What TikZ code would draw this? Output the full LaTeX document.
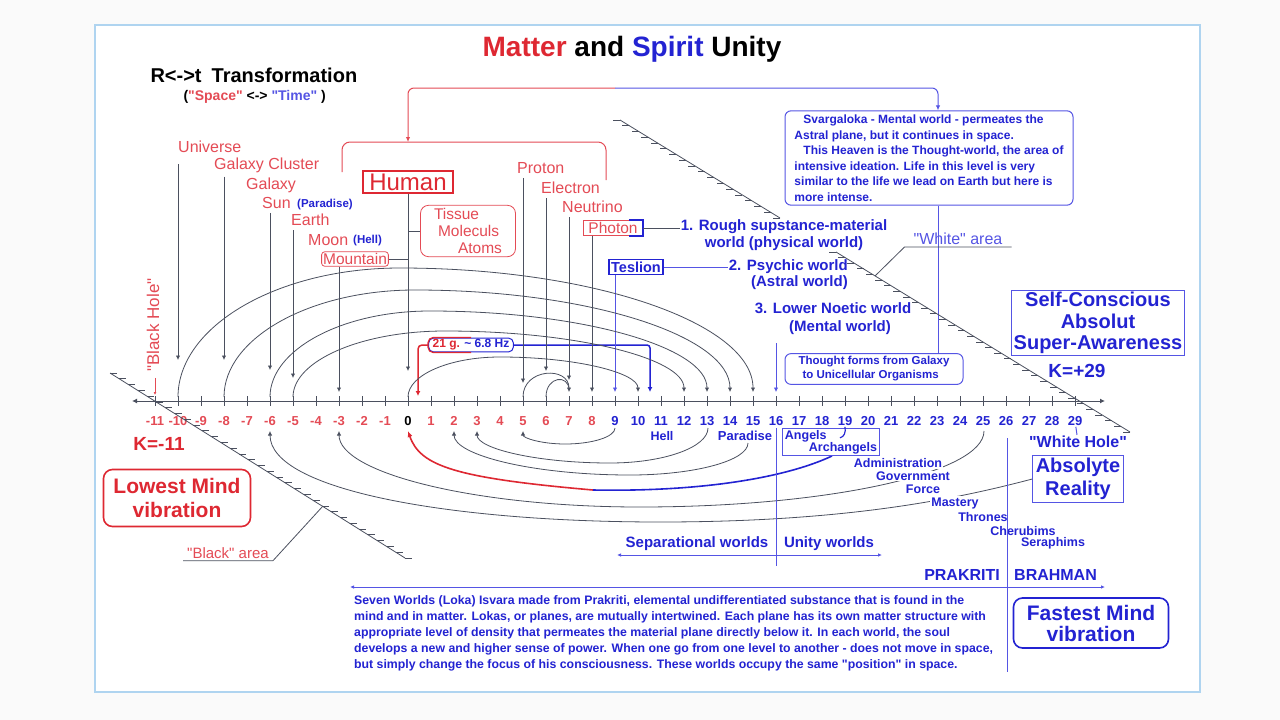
\documentclass[tikz,border=0pt]{standalone}
\usepackage{fontspec}
\setmainfont{Liberation Sans}[Ligatures=TeXOff]
\usetikzlibrary{arrows.meta,calc,positioning}
\definecolor{mred}{RGB}{222,40,50}
\definecolor{lred}{RGB}{228,75,85}
\definecolor{mblue}{RGB}{35,35,210}
\definecolor{lblue}{RGB}{85,85,228}
\definecolor{gline}{RGB}{75,80,95}
\definecolor{frame}{RGB}{175,212,240}
\begin{document}
\begin{tikzpicture}[x=1pt,y=-1pt,
  lbl/.style={font=\fontsize{16}{18}\selectfont, text=lred, inner sep=1pt},
  sblu/.style={font=\fontsize{12.5}{14}\selectfont\bfseries, text=mblue, inner sep=1pt},
  wblu/.style={font=\fontsize{15}{17}\selectfont\bfseries, text=mblue, inner sep=1pt},
  tk/.style={font=\fontsize{13}{14}\selectfont\bfseries, inner sep=1pt},
  rbox/.style={draw=lred, line width=0.8pt, rounded corners=3pt, font=\fontsize{15.5}{17}\selectfont, text=lred, inner sep=1.5pt},
  bbox/.style={draw=lblue, line width=1pt, text=mblue},
  dropl/.style={draw=gline, line width=0.8pt, -{Latex[length=4.5pt,width=4.5pt]}, shorten <=3pt},
  arcl/.style={draw=gline, line width=0.8pt},
  hatch/.style={draw=gline, line width=0.8pt}]
\useasboundingbox (0,0) rectangle (1280,720);
\fill[gray!4] (0,0) rectangle (1280,720);
\filldraw[fill=white, draw=frame, line width=1.5pt] (95,25) rectangle (1200,692);

\node[font=\fontsize{28}{30}\selectfont\bfseries] (title) at (632,49) {\textcolor{mred}{Matter} and \textcolor{mblue}{Spirit} Unity};
\node[anchor=west, font=\fontsize{20}{22}\selectfont\bfseries] (rt) at (147,75) {R<->t\enspace Transformation};
\node[anchor=west, font=\fontsize{14}{16}\selectfont\bfseries] (spt) at (180,97) {(\textcolor{lred}{"Space"} <-> \textcolor{lblue}{"Time"} )};

\coordinate (axL) at (132,401);
\coordinate (axR) at (1105,401);
\draw[gline, line width=1pt, {Latex[length=5pt,width=5pt]}-{Latex[length=5pt,width=5pt]}] (axL) -- (axR);
\foreach \k in {-11,...,29} {
  \coordinate (tick\k) at ({408+23*\k},401);
  \draw[gline, line width=0.8pt] (tick\k) ++(0,-5) -- ++(0,10);
}
\foreach \k in {-11,...,-1} \node[tk, text=lred] (lab\k) at ({408+23*\k},421) {\k};
\node[tk] (lab0) at (408,421) {0};
\foreach \k in {1,...,8} \node[tk, text=lred] (lab\k) at ({408+23*\k},421) {\k};
\foreach \k in {9,...,29} \node[tk, text=mblue] (lab\k) at ({408+23*\k},421) {\k};

\node[lbl, anchor=west] (universe) at (177,147) {Universe};
\node[lbl, anchor=west] (gcluster) at (213,165) {Galaxy Cluster};
\node[lbl, anchor=west] (galaxy) at (245,185) {Galaxy};
\node[lbl, anchor=west] (sun) at (261,203) {Sun};
\node[sblu, anchor=west, font=\fontsize{11.5}{13}\selectfont\bfseries] (paradise) at (296,205) {(Paradise)};
\node[lbl, anchor=west] (earth) at (290,220) {Earth};
\node[lbl, anchor=west] (moon) at (307,240) {Moon};
\node[sblu, anchor=west, font=\fontsize{11.5}{13}\selectfont\bfseries] (hell) at (352,241) {(Hell)};
\node[rbox] (mountain) at (355,259) {Mountain};
\node[draw=mred, line width=2pt, font=\fontsize{24}{26}\selectfont, text=mred, inner xsep=6pt, inner ysep=2.5pt] (human) at (408,182) {Human};
\node[rbox, rounded corners=8pt, align=left, minimum width=95pt, inner ysep=3pt] (tissue) at (468,231) {Tissue\\\hspace*{4pt}Moleculs\\\hspace*{24pt}Atoms};
\node[lbl, anchor=west] (proton) at (516,168) {Proton};
\node[lbl, anchor=west] (electron) at (540,188) {Electron};
\node[lbl, anchor=west] (neutrino) at (561,207) {Neutrino};
\node[font=\fontsize{15.5}{17}\selectfont, text=lred, inner xsep=5pt, inner ysep=2pt] (photon) at (613,228) {Photon};
\draw[lred, line width=1.2pt] ([xshift=-14pt]photon.north east) -- (photon.north west) -- (photon.south west) -- ([xshift=-14pt]photon.south east);
\draw[mblue, line width=1.5pt] ([xshift=-14pt]photon.north east) -- (photon.north east) -- (photon.south east) -- ([xshift=-14pt]photon.south east);
\node[draw=mblue, line width=1.5pt, font=\fontsize{14.5}{16}\selectfont\bfseries, text=mblue, inner sep=2pt] (teslion) at (636,267) {Teslion};

\node[wblu, align=center] (rough) at (784,235) {1. Rough supstance-material\\world (physical world)};
\node[wblu, align=right, anchor=east, font=\fontsize{15}{16}\selectfont\bfseries] (psychic) at (849,275) {2. Psychic world\\(Astral world)};
\node[wblu, align=center, font=\fontsize{15}{18}\selectfont\bfseries] (noetic) at (833,319) {3. Lower Noetic world\\\hspace*{14pt}(Mental world)};

\node[bbox, rounded corners=6pt, align=left, minimum width=288pt, inner sep=4pt, font=\fontsize{12}{15.5}\selectfont\bfseries] (svarga) at (929,158) {\hspace*{9pt}Svargaloka - Mental world - permeates the\\Astral plane, but it continues in space.\\\hspace*{9pt}This Heaven is the Thought-world, the area of\\intensive ideation. Life in this level is very\\similar to the life we lead on Earth but here is\\more intense.};
\node[bbox, rounded corners=6pt, align=left, minimum width=178pt, inner ysep=3pt, font=\fontsize{11.5}{14}\selectfont\bfseries] (thought) at (874,369) {Thought forms from Galaxy\\\hspace*{4pt}to Unicellular Organisms};
\node[bbox, align=center, inner sep=2pt, font=\fontsize{20}{21.5}\selectfont\bfseries] (selfc) at (1098,323) {Self-Conscious\\Absolut\\Super-Awareness};
\node[font=\fontsize{19}{21}\selectfont\bfseries, text=mblue] (kplus) at (1077,371) {K=+29};
\node[font=\fontsize{16}{18}\selectfont\bfseries, text=mblue, inner sep=1pt] (whitehole) at (1078,442) {"White Hole"};
\node[bbox, align=center, inner sep=3pt, font=\fontsize{20}{23}\selectfont\bfseries] (absr) at (1078,479) {Absolyte\\Reality};
\node[font=\fontsize{19}{21}\selectfont\bfseries, text=mred] (kminus) at (159,444) {K=-11};
\node[draw=mred, line width=1.6pt, rounded corners=9pt, align=center, minimum width=147pt, minimum height=57pt, font=\fontsize{21}{24}\selectfont\bfseries, text=mred] (lowest) at (177,498) {Lowest Mind\\vibration};
\node[draw=mblue, line width=1.6pt, rounded corners=9pt, align=center, minimum width=155pt, minimum height=50pt, font=\fontsize{21}{21}\selectfont\bfseries, text=mblue] (fastest) at (1091,623) {Fastest Mind\\vibration};
\node[rotate=90, font=\fontsize{17}{19}\selectfont, text=lred, inner sep=1pt] (blackhole) at (153,325) {"Black Hole"};
\draw[lred, line width=0.8pt, -{Latex[length=3pt,width=3pt]}, shorten <=5pt] (blackhole.west -| tick-11) -- ([yshift=6pt]tick-11);

\node[draw=mblue, line width=1pt, rounded corners=5pt, inner xsep=4pt, inner ysep=1.5pt, font=\fontsize{12}{14}\selectfont\bfseries] (hz) at (471,345) {\textcolor{mred}{21 g.} \textcolor{mblue}{\textasciitilde{} 6.8 Hz}};
\draw[mred, line width=1.2pt, rounded corners=5pt] (hz.north) -- (hz.north west) -- (hz.south west) -- (hz.south);
\draw[mred, line width=1.5pt, rounded corners=4pt, -{Latex[length=5pt,width=5pt]}] (hz.west) -| ([xshift=10pt,yshift=5pt]tick0);
\draw[mblue, line width=1.5pt, rounded corners=3pt, -{Latex[length=5pt,width=5pt]}] (hz.east) -| ([xshift=12pt,yshift=9pt]tick10);

\draw[dropl, shorten <=10pt] (universe.south -| tick-10) -- ([yshift=41pt]tick-10);
\draw[dropl] (gcluster.south -| tick-8) -- ([yshift=41pt]tick-8);
\draw[dropl] (sun.south -| tick-6) -- ([yshift=31pt]tick-6);
\draw[dropl] (earth.south -| tick-5) -- ([yshift=23pt]tick-5);
\draw[dropl, shorten <=0pt] (mountain.south -| tick-3) -- ([yshift=9pt]tick-3);
\draw[dropl, shorten <=0pt] (human.south -| tick0) -- ([yshift=30pt]tick0);
\draw[dropl] (proton.south -| tick5) -- ([yshift=18pt]tick5);
\draw[dropl] (electron.south -| tick6) -- ([yshift=30pt]tick6);
\draw[dropl] (neutrino.south -| tick7) -- ([yshift=21pt]tick7);
\draw[dropl, shorten <=0pt] (photon.south -| tick8) -- ([yshift=9pt]tick8);
\draw[dropl, draw=lblue, shorten <=0pt] (teslion.south -| tick9) -- ([yshift=9pt]tick9);
\coordinate (ndrop) at (776,340);
\draw[dropl, draw=lblue] (ndrop) -- ([yshift=9pt]tick16);
\draw[gline, line width=0.8pt] (mountain.east) -- (mountain.east -| human.south);
\draw[gline, line width=0.8pt] (tissue.west -| human.south) -- (tissue.west);
\draw[gline, line width=0.8pt] (photon.east) -- (photon.east -| rough.west);
\draw[lblue, line width=1pt] (teslion.east) -- (teslion.east -| psychic.west);

\foreach \xl/\xr/\xp/\yt in {178/753/400/268, 224/730/415/290, 270/707/430/311, 293/684/445/331, 408/638/500/357}
  \draw[arcl, -{Latex[length=4.5pt,width=4.5pt]}] (\xl,397) .. controls (\xl,{397-0.55*(397-\yt)}) and ({\xp-0.55*(\xp-\xl)},\yt) .. (\xp,\yt) .. controls ({\xp+0.55*(\xr-\xp)},\yt) and (\xr,{392-0.55*(392-\yt)}) .. (\xr,392);
\draw[arcl, -{Latex[length=4.5pt,width=4.5pt]}] (523,397) .. controls (523,368) and (569,366) .. (569,392);
\draw[arcl] (546,397) .. controls (546,376) and (569,374) .. (569,390);

\foreach \xs/\xb/\yb/\xe/\ye in {523/565/444/615/428, 477/610/463/708/428, 454/630/475/748/443, 339/640/507/984/431}
  \draw[arcl, {Latex[length=4.5pt,width=4.5pt]}-] (\xs,431) .. controls (\xs,{431+0.55*(\yb-431)}) and ({\xb-0.55*(\xb-\xs)},\yb) .. (\xb,\yb) .. controls ({\xb+0.55*(\xe-\xb)},\yb) and (\xe,{\ye+0.55*(\yb-\ye)}) .. (\xe,\ye);
\draw[arcl, {Latex[length=4.5pt,width=4.5pt]}-] (270,431) .. controls (270,490) and (450,522) .. (660,522) .. controls (850,522) and (960,498) .. (absr.west);
\coordinate (rb) at (593,490);
\draw[mred, line width=1.6pt, {Latex[length=6pt,width=5pt]}-] (408,431) .. controls (420,466) and (455,478) .. (rb);
\draw[mblue, line width=1.6pt] (rb) .. controls (700,492) and (785,478) .. (832,456);

\node[sblu, fill=white] (hellb) at (662,436) {Hell};
\node[sblu, fill=white, font=\fontsize{13}{14}\selectfont\bfseries] (paradiseb) at (745,436) {Paradise};
\node[bbox, align=left, inner sep=2pt, font=\fontsize{12.5}{12}\selectfont\bfseries] (angels) at (831,442) {Angels\\\hspace*{24pt}Archangels};
\draw[mblue, line width=1.2pt] (lab19.south) .. controls +(1,6) and +(4,-1) .. ++(-5,11);
\node[sblu, fill=white] (admin) at (898,463) {Administration};
\node[sblu, fill=white] (govt) at (913,476) {Government};
\node[sblu, fill=white] (force) at (923,489) {Force};
\node[sblu, fill=white] (mastery) at (955,503) {Mastery};
\node[sblu, fill=white] (thrones) at (983,517) {Thrones};
\node[sblu, fill=white] (cherub) at (1023,531) {Cherubims};
\node[sblu, fill=white] (seraph) at (1053,543) {Seraphims};
\draw[lblue, line width=1pt] (lab29) -- (whitehole);

\coordinate (topL) at (408,88);
\coordinate (topM) at (615,88);
\coordinate (topR) at (938,88);
\coordinate (brk) at (408,142);
\draw[lred, line width=1pt, rounded corners=8pt] (342,172) -- (342,142) -- (606,142) -- (606,180);
\draw[lred, line width=1pt, rounded corners=6pt, -{Latex[length=5pt,width=4.5pt]}] (topM) -- (topL) -- (brk);
\draw[lblue, line width=1pt, rounded corners=6pt, -{Latex[length=5pt,width=4.5pt]}] (topM) -- (topR) -- (topR |- svarga.north);
\draw[lblue, line width=1pt] (topR |- svarga.south) -- (topR |- thought.north);

\coordinate (hl1) at (110,373);
\coordinate (hl2) at (405,558);
\draw[hatch] (hl1) -- (hl2);
\foreach \i in {0,...,32} \draw[hatch] ($(hl1)!\i/32!(hl2)$) -- ++(7,0);
\coordinate (hr1) at (620,120);
\coordinate (hr2) at (780,218);
\coordinate (hr3) at (836,252);
\coordinate (hr4) at (1130,432);
\draw[hatch] (hr1) -- (hr2);
\draw[hatch] (hr3) -- (hr4);
\foreach \i in {0,...,17} \draw[hatch] ($(hr1)!\i/17!(hr2)$) -- ++(-7,0);
\foreach \i in {0,...,32} \draw[hatch] ($(hr3)!\i/32!(hr4)$) -- ++(-7,0);

\node[font=\fontsize{16}{18}\selectfont, text=lblue, inner xsep=9pt, inner ysep=2pt] (whitearea) at (958,239) {"White" area};
\coordinate (whit) at (875,276);
\draw[gline, line width=0.8pt] (whitearea.south east) -- (whitearea.south west) -- (whit);
\node[font=\fontsize{15}{17}\selectfont, text=lred, inner xsep=4pt, inner ysep=2pt] (blackarea) at (228,553) {"Black" area};
\coordinate (bhit) at (323,506);
\draw[gline, line width=0.8pt] (blackarea.south west) -- (blackarea.south east) -- (bhit);

\coordinate (d1t) at (776,428);
\coordinate (d1b) at (776,566);
\draw[lblue, line width=1pt] (d1t) -- (d1b);
\coordinate (d2t) at (1007,438);
\coordinate (d2b) at (1007,672);
\draw[lblue, line width=1pt] (d2t) -- (d2b);
\node[wblu] (sepw) at (697,544) {Separational worlds};
\node[wblu] (unityw) at (829,544) {Unity worlds};
\coordinate (sepL) at (617,555);
\coordinate (sepR) at (882,555);
\draw[lblue, line width=1pt, {Latex[length=4pt,width=3.5pt]}-{Latex[length=4pt,width=3.5pt]}] (sepL) -- (sepR);
\node[wblu, anchor=east, font=\fontsize{16}{18}\selectfont\bfseries] (prakriti) at (1001,575) {PRAKRITI};
\node[wblu, anchor=west, font=\fontsize{16}{18}\selectfont\bfseries] (brahman) at (1013,575) {BRAHMAN};
\coordinate (pkL) at (350,587);
\coordinate (pkR) at (1105,587);
\draw[lblue, line width=1pt, {Latex[length=4pt,width=3.5pt]}-{Latex[length=4pt,width=3.5pt]}] (pkL) -- (pkR);

\node[anchor=north west, align=left, inner sep=0pt, text=mblue, font=\fontsize{12.3}{16}\selectfont\bfseries] (para) at (354,595) {Seven Worlds (Loka) Isvara made from Prakriti, elemental undifferentiated substance that is found in the\\mind and in matter. Lokas, or planes, are mutually intertwined. Each plane has its own matter structure with\\appropriate level of density that permeates the material plane directly below it. In each world, the soul\\develops a new and higher sense of power. When one go from one level to another - does not move in space,\\but simply change the focus of his consciousness. These worlds occupy the same "position" in space.};
\end{tikzpicture}
\end{document}
